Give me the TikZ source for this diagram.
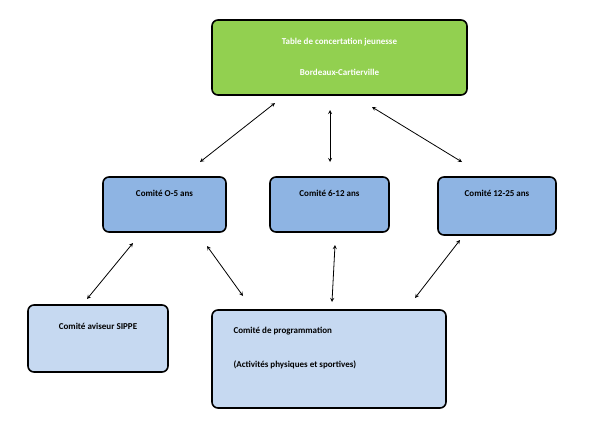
\documentclass[tikz,border=0pt]{standalone}
\usepackage{fontspec}
\setmainfont{Carlito}
\begin{document}
\begin{tikzpicture}[x=1pt,y=-1pt,
 box/.style={draw=black,line width=1.6pt,rounded corners=6pt,inner sep=0pt},
 lbl/.style={font=\bfseries\fontsize{9}{11}\selectfont},
 arr/.style={<->,>=stealth,line width=0.8pt}]
\useasboundingbox (0,0) rectangle (600,442);
\definecolor{grn}{HTML}{92D050}
\definecolor{blu}{HTML}{8EB4E3}
\definecolor{lblu}{HTML}{C6D9F1}
\draw[box,fill=grn] (212,20) rectangle (467,95);
\node[lbl,white] (t1) at (339.5,42) {Table de concertation jeunesse};
\node[lbl,white] (t2) at (339.5,72) {Bordeaux-Cartierville};
\draw[box,fill=blu] (103,177) rectangle (226,232);
\node[lbl] (a) at (164.5,193) {Comité O-5 ans};
\draw[box,fill=blu] (270,177) rectangle (389,232);
\node[lbl] (b) at (329.5,193) {Comité 6-12 ans};
\draw[box,fill=blu] (438,177) rectangle (556,235);
\node[lbl] (c) at (497,193) {Comité 12-25 ans};
\draw[box,fill=lblu] (28,305) rectangle (168,372);
\node[lbl] (d) at (98,326) {Comité aviseur SIPPE};
\draw[box,fill=lblu] (212,310) rectangle (446,408);
\node[lbl,anchor=west] (e) at (230,331) {Comité de programmation};
\node[lbl,anchor=west] (f) at (230,365) {(Activités physiques et sportives)};
\coordinate (p1) at (275,103); \coordinate (q1) at (200,162);
\coordinate (p2) at (330,110); \coordinate (q2) at (330,162);
\coordinate (p3) at (372,107); \coordinate (q3) at (462,162);
\coordinate (p4) at (133,243); \coordinate (q4) at (87,299);
\coordinate (p5) at (207,246); \coordinate (q5) at (243,296);
\coordinate (p6) at (335,245); \coordinate (q6) at (332,302);
\coordinate (p7) at (460,240); \coordinate (q7) at (415,298);
\foreach \i in {1,...,7} \draw[arr] (p\i) -- (q\i);
\end{tikzpicture}
\end{document}
